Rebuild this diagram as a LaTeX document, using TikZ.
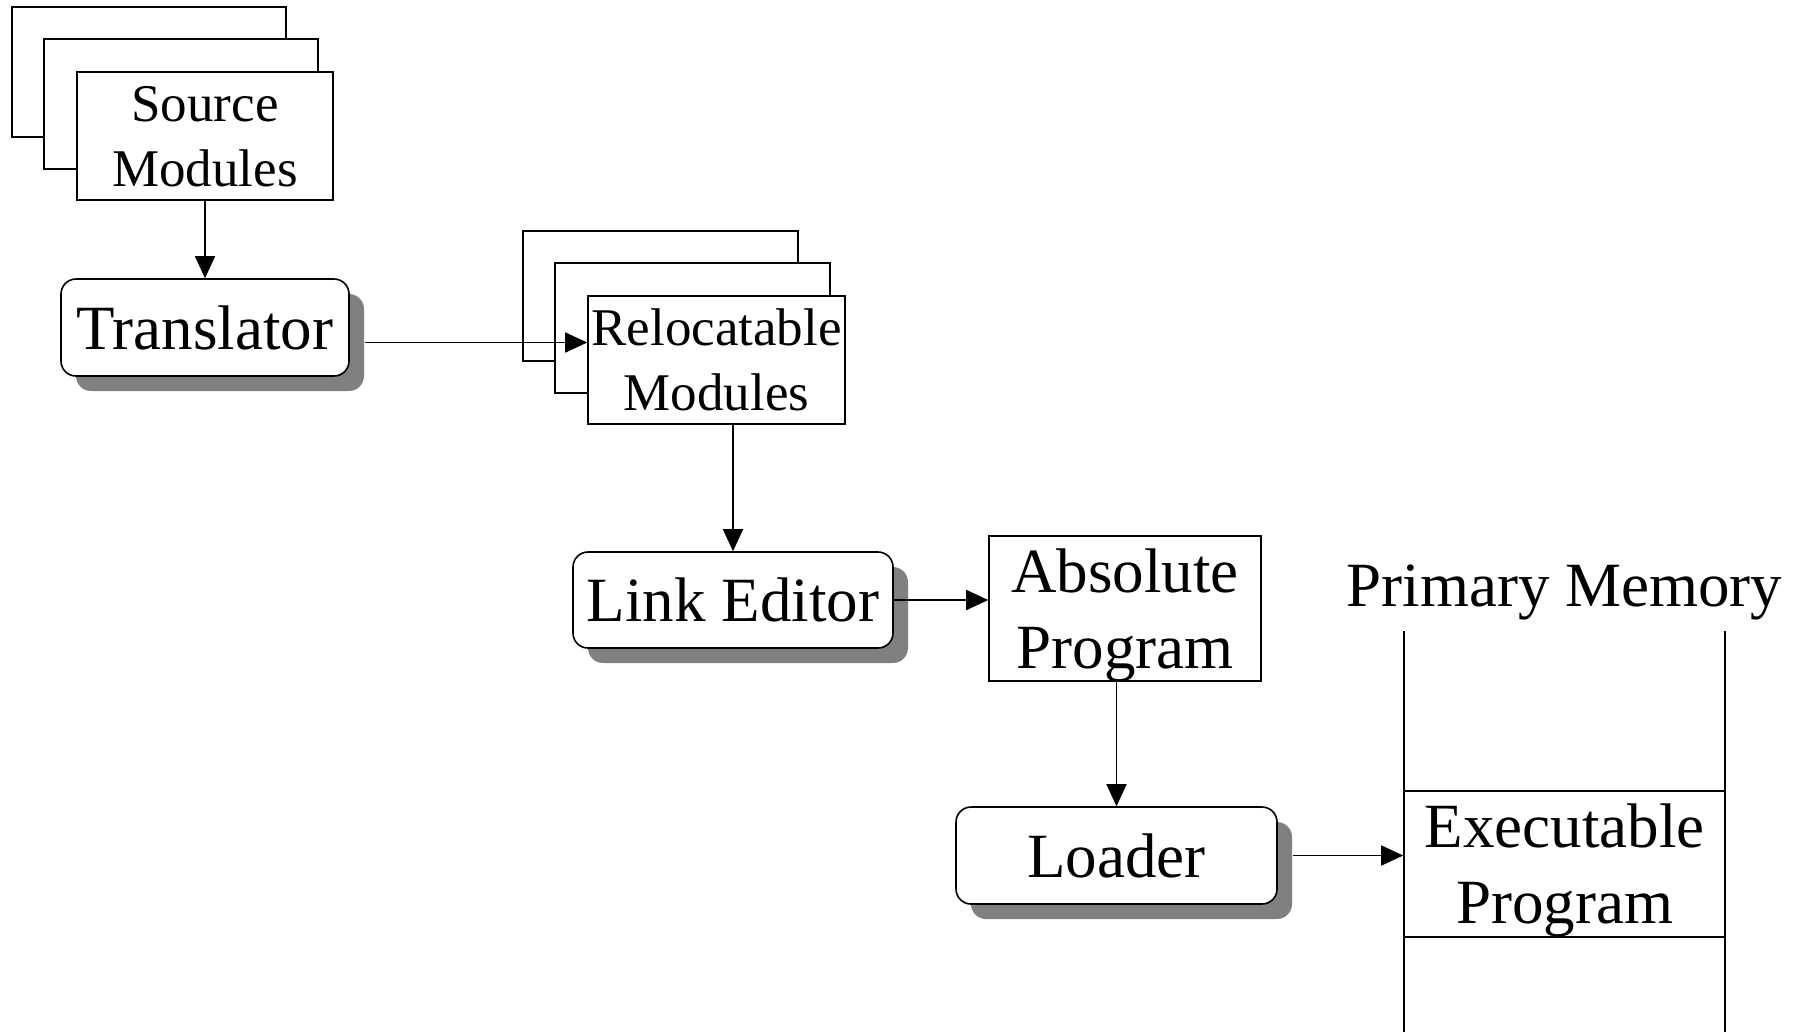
\documentclass[tikz,border=0pt]{standalone}
\usepackage{fontspec}
\setmainfont{Liberation Serif}
\usetikzlibrary{arrows.meta,calc,shadows,backgrounds}
\tikzset{
>={Triangle[length=5.5pt,width=5pt]},
line width=0.65pt,
every node/.style={inner sep=0pt},
tool/.style={draw, fill=white, rounded corners=3.75pt, minimum height=24.25pt,
  font=\fontsize{15.75}{19}\selectfont,
  drop shadow={shadow xshift=3.75pt, shadow yshift=-3.75pt, fill=black!50, opacity=1}},
doc/.style={draw, fill=white, minimum width=64pt, minimum height=32pt, align=center,
  text depth=0pt, font=\fontsize{13.25}{16.25}\selectfont},
big/.style={align=center, font=\fontsize{15.75}{19}\selectfont},
}

\begin{document}
\begin{tikzpicture}
    [x=0.25pt, y=-0.25pt]
    \useasboundingbox (0,0) rectangle (1797,1032);

    \node [doc] (src) at (205,136) {Source\\Modules};
    \node [tool, minimum width=72pt] (tr) at (205,327.5) {Translator};
    \node [doc, minimum width=64.25pt] (reloc) at (716.5,360) {Relocatable\\Modules};
    \node [tool, minimum width=80pt, minimum height=24pt] (le) at (733,600) {Link Editor};
    \node [doc, big, text depth=0pt, minimum width=68pt, minimum height=36.25pt] (abs) at (1125,608.5) {Absolute\\Program};
    \node [tool, minimum width=80.25pt] (ld) at (1116.5,855.5) {Loader};

    % primary memory
    \node [big, anchor=base] (mem) at (1564.5,606) {Primary Memory};
    \node [big, text depth=0pt, minimum width=80.25pt, minimum height=36pt] (exe) at (1564.5,864) {Executable\\Program};
    \coordinate (mtl) at (1404,631);
    \coordinate (mtr) at (1725,631);
    \coordinate (mbl) at (1404,1032);
    \coordinate (mbr) at (1725,1032);
    \draw (mtl) -- (mbl);
    \draw (mtr) -- (mbr);
    \draw (exe.north west) -- (exe.north east);
    \draw (exe.south west) -- (exe.south east);

    % stacked pages
    \begin{scope}[on background layer]
    \foreach \d in {src,reloc}
        \foreach \k in {2,1}
            \draw [fill=white] ($(\d.north west)+(-32*\k,-32*\k)$) rectangle ($(\d.south east)+(16-32*\k,-32*\k)$);
    \end{scope}

    \coordinate (trs) at ([shift={(15,15)}]tr.east);
    \coordinate (lds) at ([shift={(15,0)}]ld.east);

    \draw[->] (src) -- (tr);
    \draw[->] (trs) -- (trs -| reloc.west);
    \draw[->] (reloc.south -| le.north) -- (le.north);
    \draw[->] (le.east) -- (le.east -| abs.west);
    \draw[->] (abs.south -| ld.north) -- (ld.north);
    \draw[->] (lds) -- (lds -| exe.west);

\end{tikzpicture}
\end{document}
